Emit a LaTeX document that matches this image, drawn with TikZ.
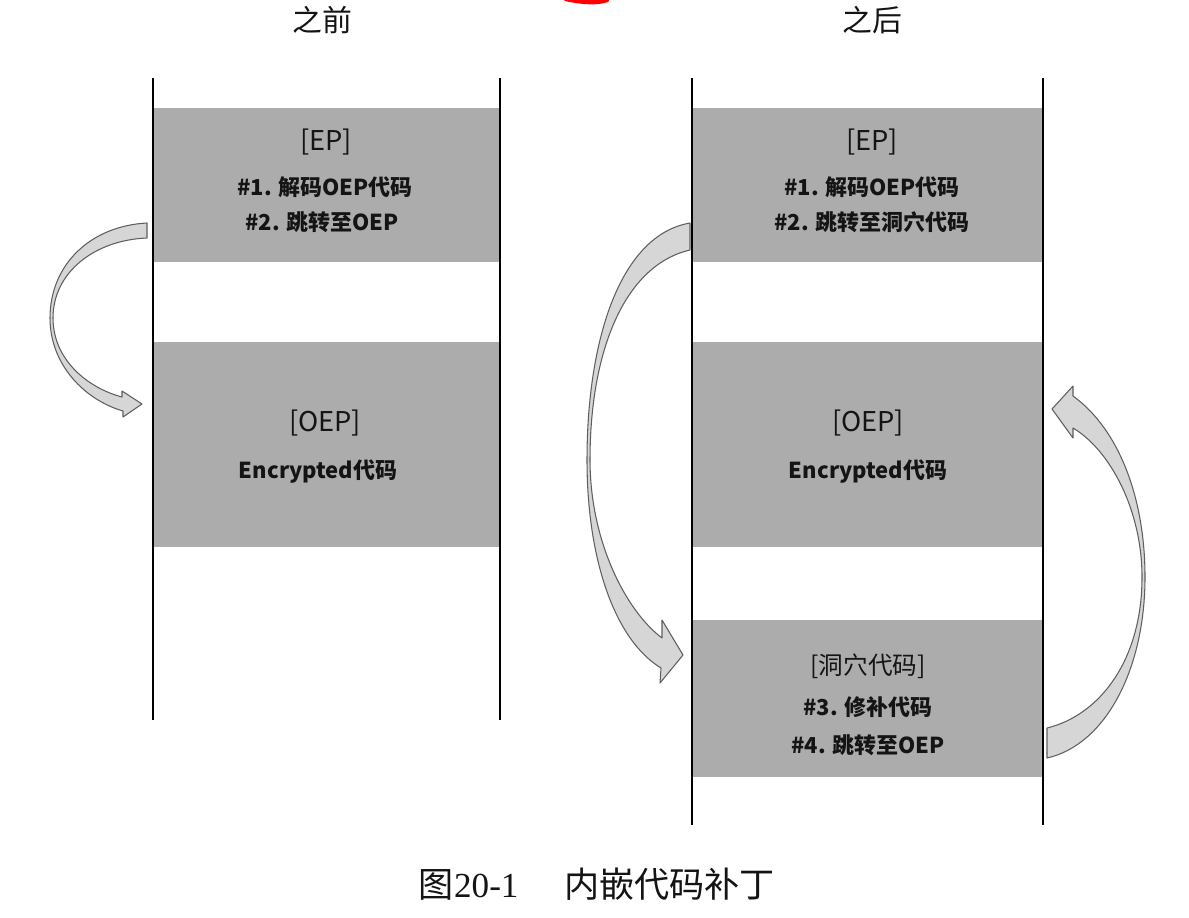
\documentclass[tikz,border=0pt]{standalone}
\usepackage{fontspec}
\newfontfamily\cjk{Noto Sans CJK SC}
\newfontfamily\capserif{Liberation Serif}
\definecolor{boxgray}{RGB}{172,172,172}
\definecolor{arrowfill}{RGB}{214,214,214}
\definecolor{arrowline}{RGB}{95,95,95}
\definecolor{txt}{RGB}{20,20,20}
\begin{document}
\begin{tikzpicture}[x=0.02cm,y=-0.02cm,
  blockbox/.style={fill=boxgray, draw=none, inner sep=0},
  wall/.style={line width=1.4pt, black},
  hdr/.style={font=\cjk\fontsize{15.5}{18}\selectfont, text=txt, inner sep=0},
  cavehdr/.style={font=\cjk\fontsize{14}{17}\selectfont, text=txt, inner sep=0},
  ln/.style={font=\cjk\bfseries\fontsize{12.5}{16}\selectfont, text=txt, inner sep=0},
  ttl/.style={font=\cjk\fontsize{17}{20}\selectfont, text=txt, inner sep=0},
  captext/.style={font=\fontsize{20}{24}\selectfont, text=txt, inner sep=0},
  fatarrow/.style={fill=arrowfill, draw=arrowline, line width=0.6pt, line join=round}]
\useasboundingbox (0,0) rectangle (1189,917);
\fill[white] (0,0) rectangle (1189,917);

% red pen mark at top
\draw[red, line width=2.5pt, line cap=round] (566,-1) .. controls (585,3) and (598,3) .. (607,0);

% titles
\node[ttl] (tbefore) at (322,20) {之前};
\node[ttl] (tafter) at (872,20) {之后};

% gray blocks
\node[blockbox, minimum width=6.94cm, minimum height=3.08cm] (lep) at (326.5,185) {};
\node[blockbox, minimum width=6.94cm, minimum height=4.1cm] (loep) at (326.5,444.5) {};
\node[blockbox, minimum width=7.02cm, minimum height=3.08cm] (rep) at (867.5,185) {};
\node[blockbox, minimum width=7.02cm, minimum height=4.1cm] (roep) at (867.5,444.5) {};
\node[blockbox, minimum width=7.02cm, minimum height=3.14cm] (rcave) at (867.5,698.5) {};

% walls
\coordinate (l1t) at (153,78); \coordinate (l1b) at (153,720);
\coordinate (l2t) at (500,78); \coordinate (l2b) at (500,720);
\coordinate (r1t) at (692,78); \coordinate (r1b) at (692,825);
\coordinate (r2t) at (1043,78); \coordinate (r2b) at (1043,825);
\draw[wall] (l1t) -- (l1b);
\draw[wall] (l2t) -- (l2b);
\draw[wall] (r1t) -- (r1b);
\draw[wall] (r2t) -- (r2b);

% left texts
\node[hdr] (lephdr) at (326,142) {[EP]};
\node[ln] (lep1) at (325,187) {\#1. 解码OEP代码};
\node[ln] (lep2) at (322,222) {\#2. 跳转至OEP};
\node[hdr] (loephdr) at (325,423) {[OEP]};
\node[ln] (loep1) at (318,472) {Encrypted代码};

% right texts
\node[hdr] (rephdr) at (872,142) {[EP]};
\node[ln] (rep1) at (872,187) {\#1. 解码OEP代码};
\node[ln] (rep2) at (872,222) {\#2. 跳转至洞穴代码};
\node[hdr] (roephdr) at (868,423) {[OEP]};
\node[ln] (roep1) at (868,472) {Encrypted代码};
\node[cavehdr] (rcavehdr) at (868,666) {[洞穴代码]};
\node[ln] (rcave1) at (868,707) {\#3. 修补代码};
\node[ln] (rcave2) at (868,745) {\#4. 跳转至OEP};

% fat curved arrows
% left: EP -> OEP
\filldraw[fatarrow] (147,223) .. controls (90,226) and (50,265) .. (50,318)
  .. controls (50,365) and (85,400) .. (123,411) -- (123,417) -- (142,404) -- (122,391) -- (122,397)
  .. controls (88,388) and (53,360) .. (53,318)
  .. controls (53,272) and (95,240) .. (147,238) -- cycle;
% middle: EP -> cave
\filldraw[fatarrow] (690,223) .. controls (620,235) and (587,340) .. (587,460)
  .. controls (587,560) and (615,640) .. (661,668) -- (660,683) -- (683,655) -- (662,620) -- (662,638)
  .. controls (625,610) and (590,540) .. (590,460)
  .. controls (590,350) and (625,265) .. (690,250) -- cycle;
% right: cave -> OEP
\filldraw[fatarrow] (1073,396) .. controls (1120,430) and (1145,500) .. (1145,577)
  .. controls (1145,670) and (1105,745) .. (1047,758) -- (1047,728)
  .. controls (1100,715) and (1142,660) .. (1142,577)
  .. controls (1142,510) and (1110,450) .. (1073,428) -- (1073,438) -- (1052,409) -- (1073,386) -- cycle;

% caption
\node[captext] (caption) at (597,884) {\cjk 图\capserif 20-1\hspace{1.3em}\cjk 内嵌代码补丁};
\end{tikzpicture}
\end{document}
